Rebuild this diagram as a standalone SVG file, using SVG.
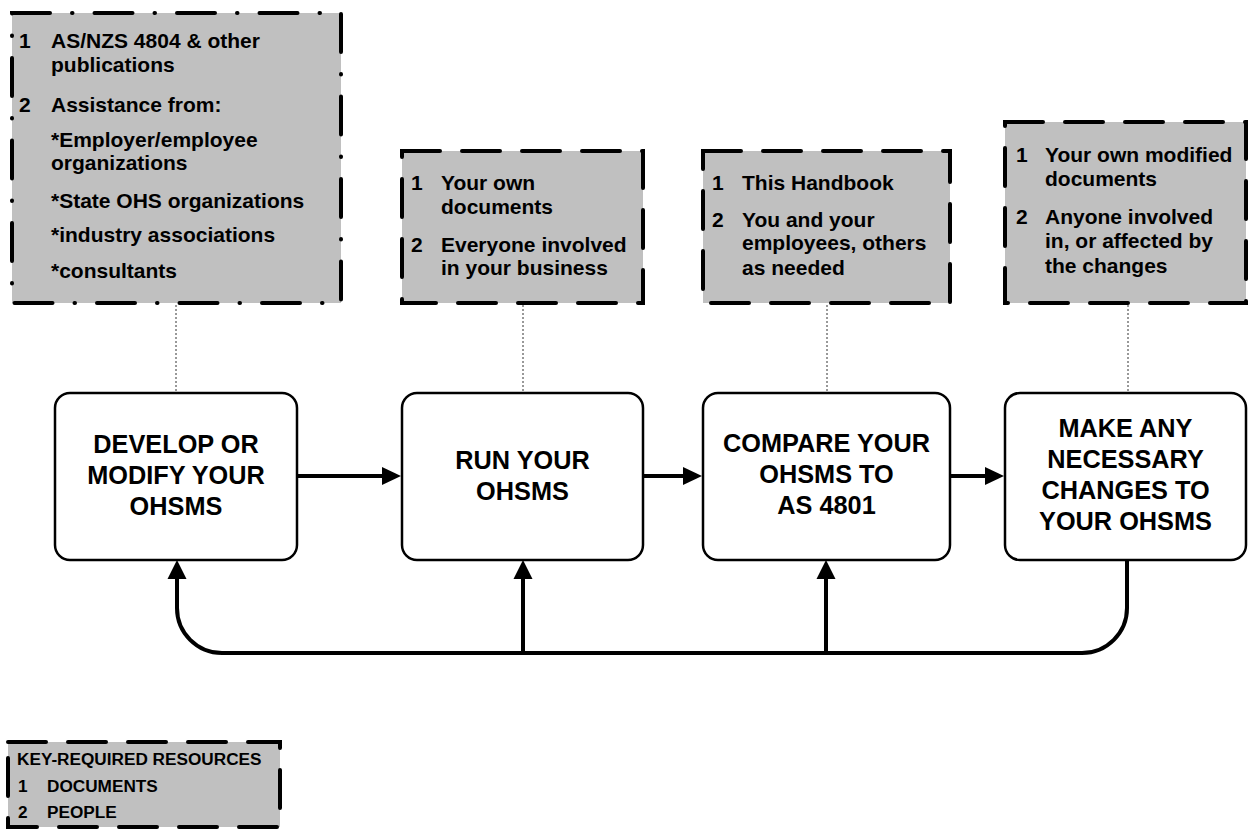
<svg xmlns="http://www.w3.org/2000/svg" width="1248" height="829" viewBox="0 0 1248 829">
<style>
.res{fill:#c0c0c0;stroke:#000;stroke-width:4;stroke-linecap:round;stroke-dasharray:38 22}
.dd{stroke-dasharray:38 22 0.5 22}
.proc{fill:#fff;stroke:#000;stroke-width:2.5}
.t{font-family:"Liberation Sans",Arial,sans-serif;font-weight:bold;font-size:21px;fill:#000}
.m{font-family:"Liberation Sans",Arial,sans-serif;font-weight:bold;font-size:25.3px;fill:#000;text-anchor:middle}
.k{font-family:"Liberation Sans",Arial,sans-serif;font-weight:bold;font-size:17.2px;fill:#000}
.dot{stroke:#333;stroke-width:1;stroke-dasharray:2 2;fill:none}
.ln{stroke:#000;stroke-width:4;fill:none}
.ah{fill:#000}
</style>
<rect width="1248" height="829" fill="#fff"/>

<g id="connectors">
<line class="dot" x1="176" y1="305" x2="176" y2="393"/>
<line class="dot" x1="523" y1="305" x2="523" y2="393"/>
<line class="dot" x1="827" y1="305" x2="827" y2="393"/>
<line class="dot" x1="1128" y1="305" x2="1128" y2="393"/>
<line class="ln" x1="297" y1="476" x2="384" y2="476"/>
<polygon class="ah" points="382,467 401,476 382,485"/>
<line class="ln" x1="643" y1="476" x2="685" y2="476"/>
<polygon class="ah" points="683,467 702,476 683,485"/>
<line class="ln" x1="950" y1="476" x2="987" y2="476"/>
<polygon class="ah" points="985,467 1004,476 985,485"/>
<path class="ln" d="M1127,560 V608 A45,45 0 0 1 1082,653 H222 A45,45 0 0 1 177,608 V577"/>
<polygon class="ah" points="167.5,579 177,560 186.5,579"/>
<line class="ln" x1="523" y1="653" x2="523" y2="577"/>
<polygon class="ah" points="513.5,579 523,560 532.5,579"/>
<line class="ln" x1="826" y1="653" x2="826" y2="577"/>
<polygon class="ah" points="816.5,579 826,560 835.5,579"/>
</g>

<g id="res1">
<rect class="res dd" x="12" y="13" width="329" height="290"/>
<text class="t" x="19" y="48">1</text>
<text class="t" x="51" y="48">AS/NZS 4804 &amp; other</text>
<text class="t" x="51" y="72">publications</text>
<text class="t" x="19" y="112">2</text>
<text class="t" x="51" y="112">Assistance from:</text>
<text class="t" x="51" y="147">*Employer/employee</text>
<text class="t" x="51" y="170">organizations</text>
<text class="t" x="51" y="208">*State OHS organizations</text>
<text class="t" x="51" y="242">*industry associations</text>
<text class="t" x="51" y="278">*consultants</text>
</g>

<g id="res2">
<rect class="res" x="402" y="151" width="241" height="152"/>
<text class="t" x="411" y="190">1</text>
<text class="t" x="441" y="190">Your own</text>
<text class="t" x="441" y="214">documents</text>
<text class="t" x="411" y="252">2</text>
<text class="t" x="441" y="252">Everyone involved</text>
<text class="t" x="441" y="275">in your business</text>
</g>

<g id="res3">
<rect class="res" x="703" y="151" width="247" height="152"/>
<text class="t" x="712" y="190">1</text>
<text class="t" x="742" y="190">This Handbook</text>
<text class="t" x="712" y="227">2</text>
<text class="t" x="742" y="227">You and your</text>
<text class="t" x="742" y="250">employees, others</text>
<text class="t" x="742" y="275">as needed</text>
</g>

<g id="res4">
<rect class="res" x="1005" y="122" width="241" height="181"/>
<text class="t" x="1016" y="162">1</text>
<text class="t" x="1045" y="162">Your own modified</text>
<text class="t" x="1045" y="186">documents</text>
<text class="t" x="1016" y="224">2</text>
<text class="t" x="1045" y="224">Anyone involved</text>
<text class="t" x="1045" y="248">in, or affected by</text>
<text class="t" x="1045" y="273">the changes</text>
</g>

<g id="procA">
<rect class="proc" x="55" y="393" width="242" height="167" rx="15"/>
<text class="m" x="176" y="453">DEVELOP OR</text>
<text class="m" x="176" y="484">MODIFY YOUR</text>
<text class="m" x="176" y="515">OHSMS</text>
</g>

<g id="procB">
<rect class="proc" x="402" y="393" width="241" height="167" rx="15"/>
<text class="m" x="522.5" y="469">RUN YOUR</text>
<text class="m" x="522.5" y="500">OHSMS</text>
</g>

<g id="procC">
<rect class="proc" x="703" y="393" width="247" height="167" rx="15"/>
<text class="m" x="826.5" y="452">COMPARE YOUR</text>
<text class="m" x="826.5" y="483">OHSMS TO</text>
<text class="m" x="826.5" y="514">AS 4801</text>
</g>

<g id="procD">
<rect class="proc" x="1005" y="393" width="241" height="167" rx="15"/>
<text class="m" x="1125.5" y="437">MAKE ANY</text>
<text class="m" x="1125.5" y="468">NECESSARY</text>
<text class="m" x="1125.5" y="499">CHANGES TO</text>
<text class="m" x="1125.5" y="530">YOUR OHSMS</text>
</g>

<g id="key">
<rect class="res" x="8" y="742" width="272" height="85"/>
<text class="k" x="17" y="765">KEY-REQUIRED RESOURCES</text>
<text class="k" x="18" y="792">1</text>
<text class="k" x="47" y="792">DOCUMENTS</text>
<text class="k" x="18" y="818">2</text>
<text class="k" x="47" y="818">PEOPLE</text>
</g>
</svg>
